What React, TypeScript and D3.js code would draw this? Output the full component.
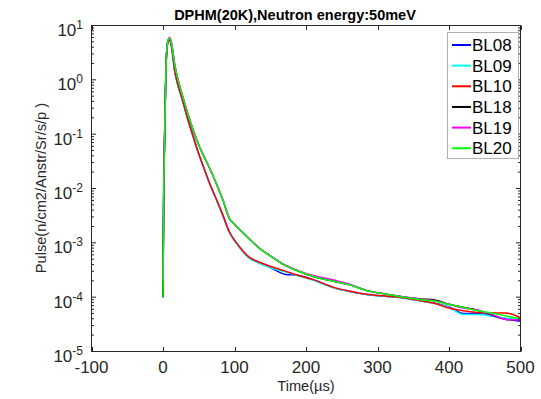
import React from 'react';
import * as d3 from 'd3';

const titleText = 'DPHM(20K),Neutron energy:50meV';
const xLabelText = 'Time(µs)';
const yLabelText = 'Pulse(n/cm2/Anstr/Sr/s/p )';
const seriesNames = ['BL08', 'BL09', 'BL10', 'BL18', 'BL19', 'BL20'];
const seriesColors = ['#0000ff', '#00ffff', '#ff0000', '#000000', '#ff00ff', '#00ff00'];
const xTicks = [-100, 0, 100, 200, 300, 400, 500];
const yTickExponents = [-5, -4, -3, -2, -1, 0, 1];

const time = [0, 1, 2, 3, 4, 5, 7, 9, 11, 13, 16, 20, 26, 30, 35, 40, 45, 50, 58, 66, 75, 84, 93, 100, 110, 120, 135, 150, 170, 190, 210, 240, 260, 285, 310, 335, 360, 380, 400, 420, 440, 460, 480, 500];

const bl08 = [1.05e-4, 0.0098, 0.062, 0.35, 1.4, 3.12, 4.98, 5.36, 4.77, 3.28, 1.56, 0.88, 0.475, 0.313, 0.18, 0.111, 0.068, 0.0432, 0.0222, 0.0116, 0.0061, 0.0031, 0.00155, 0.0011, 7.4e-4, 5.4e-4, 4.25e-4, 3.5e-4, 2.65e-4, 2.5e-4, 2.1e-4, 1.48e-4, 1.29e-4, 1.12e-4, 1.04e-4, 9.8e-5, 8.6e-5, 7.7e-5, 6.6e-5, 5.0e-5, 5.0e-5, 4.5e-5, 4.0e-5, 3.6e-5];
const bl09 = [1.0e-4, 0.0095, 0.06, 0.34, 1.38, 3.1, 4.95, 5.35, 4.75, 3.25, 1.55, 0.87, 0.47, 0.31, 0.178, 0.11, 0.067, 0.0428, 0.022, 0.0115, 0.006, 0.0031, 0.00153, 0.00108, 7.3e-4, 5.3e-4, 4.2e-4, 3.5e-4, 2.95e-4, 2.45e-4, 2.05e-4, 1.47e-4, 1.28e-4, 1.12e-4, 1.04e-4, 9.7e-5, 8.5e-5, 7.6e-5, 6.5e-5, 4.8e-5, 4.8e-5, 4.5e-5, 4.1e-5, 4.0e-5];
const bl10 = [1.0e-4, 0.01, 0.063, 0.355, 1.41, 3.16, 5.0, 5.37, 4.79, 3.31, 1.58, 0.89, 0.479, 0.316, 0.182, 0.112, 0.069, 0.0437, 0.0224, 0.0117, 0.0062, 0.0032, 0.00158, 0.00112, 7.6e-4, 5.5e-4, 4.4e-4, 3.7e-4, 3.05e-4, 2.5e-4, 2.1e-4, 1.5e-4, 1.3e-4, 1.13e-4, 1.05e-4, 9.8e-5, 8.6e-5, 7.7e-5, 6.3e-5, 5.6e-5, 5.2e-5, 5.15e-5, 5.1e-5, 4.2e-5];
const bl18 = [1.0e-4, 0.0079, 0.05, 0.28, 1.2, 3.0, 5.25, 5.75, 5.25, 3.8, 2.0, 1.12, 0.575, 0.38, 0.229, 0.145, 0.093, 0.063, 0.037, 0.0224, 0.012, 0.006, 0.0028, 0.0022, 0.00162, 0.0012, 7.9e-4, 5.75e-4, 3.9e-4, 3.0e-4, 2.4e-4, 1.95e-4, 1.7e-4, 1.32e-4, 1.15e-4, 1.02e-4, 9.3e-5, 8.9e-5, 7.4e-5, 6.5e-5, 5.75e-5, 4.7e-5, 3.9e-5, 3.8e-5];
const bl19 = [2.0e-4, 0.0085, 0.052, 0.29, 1.25, 3.1, 5.4, 6.0, 5.4, 3.9, 2.05, 1.14, 0.58, 0.385, 0.232, 0.146, 0.094, 0.063, 0.0375, 0.0225, 0.012, 0.006, 0.0028, 0.0022, 0.00163, 0.00122, 8.0e-4, 5.8e-4, 3.95e-4, 3.05e-4, 2.5e-4, 2.05e-4, 1.75e-4, 1.33e-4, 1.15e-4, 1.02e-4, 9.2e-5, 8.6e-5, 7.4e-5, 6.3e-5, 5.75e-5, 4.8e-5, 3.9e-5, 3.8e-5];
const bl20 = [1.0e-4, 0.008, 0.05, 0.285, 1.22, 3.05, 5.3, 5.8, 5.3, 3.85, 2.02, 1.13, 0.58, 0.382, 0.23, 0.146, 0.094, 0.063, 0.037, 0.0224, 0.012, 0.006, 0.0028, 0.0022, 0.00162, 0.0012, 7.9e-4, 5.75e-4, 3.9e-4, 3.0e-4, 2.4e-4, 1.95e-4, 1.7e-4, 1.32e-4, 1.15e-4, 1.01e-4, 9.0e-5, 8.5e-5, 7.3e-5, 6.5e-5, 5.6e-5, 5.1e-5, 4.5e-5, 4.0e-5];

const seriesValues = [bl08, bl09, bl10, bl18, bl19, bl20];

export default function App() {
  const W = 541;
  const H = 399;
  const left = 91.5, right = 520.5, top = 25.5, bottom = 351.5;
  const x = d3.scaleLinear().domain([-100, 500]).range([left, right]);
  const y = d3.scaleLog().domain([1e-5, 10]).range([bottom, top]);
  const font = 'Arial, "Liberation Sans", Helvetica, sans-serif';

  const lineGen = d3
    .line<number>()
    .x((_d, i) => x(time[i]))
    .y((d) => y(d))
    .curve(d3.curveMonotoneX);

  const minorTicks: number[] = [];
  for (let e = -5; e < 1; e++) {
    for (let k = 2; k <= 9; k++) minorTicks.push(k * Math.pow(10, e));
  }

  const legX = 447.5, legY = 32.5, legW = 71, legH = 126;
  const rowStart = 45, rowStep = 20.65;

  return (
    <svg width={W} height={H} style={{ position: 'absolute', left: 0, top: 0, background: '#fff' }} fontFamily={font}>
      <rect x={0} y={0} width={W} height={H} fill="#fff" />
      <defs>
        <clipPath id="plotClip">
          <rect x={left} y={top} width={right - left} height={bottom - top} />
        </clipPath>
      </defs>
      <g clipPath="url(#plotClip)">
        {seriesValues.map((vals, si) => (
          <path key={si} d={lineGen(vals) || ''} fill="none" stroke={seriesColors[si]} strokeWidth={1.5} strokeLinejoin="round" />
        ))}
      </g>
      {/* axes box */}
      <rect x={left} y={top} width={right - left} height={bottom - top} fill="none" stroke="#262626" strokeWidth={1} />
      {/* x ticks */}
      {xTicks.map((t) => (
        <g key={'xt' + t}>
          <line x1={Math.round(x(t)) + 0.5} x2={Math.round(x(t)) + 0.5} y1={bottom} y2={bottom - 4.5} stroke="#262626" />
          <line x1={Math.round(x(t)) + 0.5} x2={Math.round(x(t)) + 0.5} y1={top} y2={top + 4.5} stroke="#262626" />
          <text x={x(t)} y={373} textAnchor="middle" fontSize={17} fill="#262626">{t}</text>
        </g>
      ))}
      {/* y major ticks */}
      {yTickExponents.map((e) => {
        const yy = y(Math.pow(10, e));
        return (
          <g key={'yt' + e}>
            <line x1={left} x2={left + 4.5} y1={yy} y2={yy} stroke="#262626" />
            <line x1={right} x2={right - 4.5} y1={yy} y2={yy} stroke="#262626" />
            <text x={83} y={yy + 10.5} textAnchor="end" fontSize={17} fill="#262626">
              10<tspan dy={-7} fontSize={12}>{e}</tspan>
            </text>
          </g>
        );
      })}
      {minorTicks.map((v, i) => (
        <g key={'mt' + i}>
          <line x1={left} x2={left + 2.5} y1={y(v)} y2={y(v)} stroke="#262626" />
          <line x1={right} x2={right - 2.5} y1={y(v)} y2={y(v)} stroke="#262626" />
        </g>
      ))}
      {/* title & labels */}
      <text x={295} y={20} textAnchor="middle" fontSize={14.5} fontWeight="bold" fill="#000">{titleText}</text>
      <text x={306} y={391} textAnchor="middle" fontSize={14.6} fill="#262626">{xLabelText}</text>
      <text transform={`translate(46,188) rotate(-90)`} textAnchor="middle" fontSize={14.6} fill="#262626">{yLabelText}</text>
      {/* legend */}
      <rect x={legX} y={legY} width={legW} height={legH} fill="#fff" stroke="#b0b0b0" strokeWidth={1} />
      {seriesNames.map((name, i) => {
        const ry = rowStart + i * rowStep;
        return (
          <g key={name}>
            <line x1={452} x2={471} y1={ry} y2={ry} stroke={seriesColors[i]} strokeWidth={2} />
            <text x={472} y={ry + 6} fontSize={17} fill="#000">{name}</text>
          </g>
        );
      })}
    </svg>
  );
}
